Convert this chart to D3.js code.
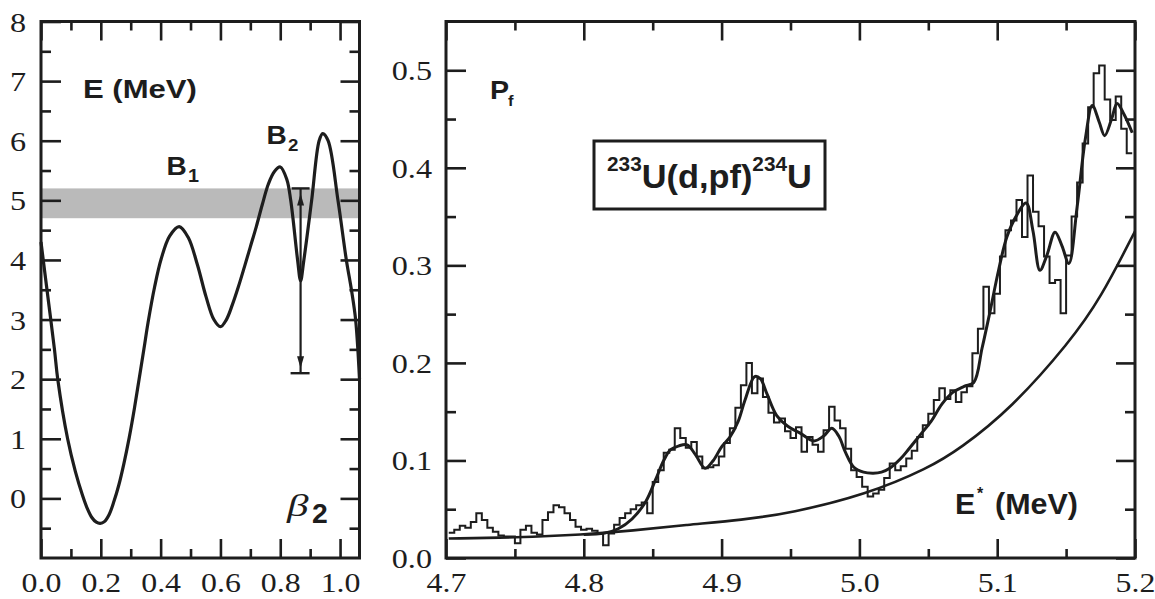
<!DOCTYPE html>
<html><head><meta charset="utf-8">
<script src="https://cdn.jsdelivr.net/npm/d3@7"></script>
<style>body{margin:0;background:#fff}svg{display:block}</style>
</head><body>
<svg id="c" width="1155" height="599"></svg>
<script>
// ---------- DATA ----------
// Left panel: potential energy vs deformation
const betaPts   = [0.000,0.020,0.045,0.056,0.089,0.115,0.139,0.155,0.170,0.185,0.198,0.212,0.228,0.244,0.260,0.277,0.295,0.312,0.328,0.344,0.358,0.380,0.402,0.430,0.462,0.492,0.523,0.552,0.578,0.600,0.620,0.640,0.660,0.680,0.700,0.720,0.740,0.760,0.780,0.800,0.822,0.835,0.858,0.868,0.879,0.905,0.930,0.942,0.960,0.993,1.021,1.038,1.052,1.065];
const energyPts = [4.30,3.50,2.50,2.00,1.00,0.45,0.05,-0.17,-0.32,-0.40,-0.42,-0.39,-0.27,-0.05,0.22,0.58,1.02,1.50,2.00,2.50,2.95,3.55,4.02,4.40,4.56,4.38,3.92,3.38,3.00,2.88,3.00,3.25,3.55,3.88,4.22,4.56,4.93,5.27,5.48,5.56,5.35,5.00,4.00,3.65,4.00,5.00,6.00,6.12,6.00,5.00,4.00,3.50,3.00,2.00];
const bandRange  = [4.7, 5.2];
const arrowBeta  = 0.868;
const arrowRange = [2.1, 5.2];
const leftXMajor = [0.0,0.2,0.4,0.6,0.8,1.0];
const leftXMinor = [0.1,0.3,0.5,0.7,0.9];
const leftYMajor = [0,1,2,3,4,5,6,7,8];
const leftYMinor = [-0.5,0.5,1.5,2.5,3.5,4.5,5.5,6.5,7.5];

// Right panel: fission probability
const histStart = 4.702, histWidth = 0.004;
const histValues = [
 0.026,0.029,0.033,0.031,0.037,0.046,0.039,0.031,0.027,0.023,
 0.022,0.022,0.015,0.029,0.033,0.026,0.024,0.039,0.047,0.054,
 0.052,0.046,0.039,0.032,0.029,0.030,0.028,0.025,0.013,0.025,
 0.034,0.041,0.046,0.050,0.054,0.057,0.046,0.078,0.090,0.108,
 0.111,0.133,0.123,0.113,0.119,0.104,0.092,0.093,0.095,0.104,
 0.118,0.133,0.154,0.177,0.200,0.169,0.184,0.165,0.149,0.139,
 0.143,0.130,0.123,0.134,0.109,0.124,0.116,0.109,0.131,0.155,
 0.141,0.133,0.112,0.090,0.083,0.073,0.063,0.066,0.070,0.082,
 0.097,0.090,0.094,0.102,0.110,0.124,0.136,0.148,0.162,0.174,
 0.163,0.172,0.160,0.170,0.176,0.210,0.235,0.278,0.251,0.271,
 0.309,0.336,0.346,0.367,0.329,0.392,0.355,0.340,0.309,0.282,
 0.285,0.251,0.310,0.350,0.385,0.425,0.462,0.497,0.505,0.470,
 0.449,0.473,0.440,0.415];
const fitE = [4.800,4.815,4.825,4.835,4.845,4.852,4.858,4.863,4.869,4.875,4.881,4.888,4.894,4.900,4.906,4.912,4.917,4.924,4.928,4.933,4.940,4.948,4.957,4.967,4.974,4.980,4.985,4.990,4.996,5.003,5.010,5.016,5.022,5.030,5.036,5.044,5.052,5.060,5.068,5.076,5.083,5.089,5.095,5.101,5.107,5.114,5.121,5.126,5.131,5.136,5.142,5.147,5.152,5.158,5.164,5.169,5.174,5.178,5.183,5.187,5.192,5.198];
const fitP = [0.024,0.0255,0.030,0.040,0.058,0.080,0.100,0.111,0.115,0.116,0.106,0.092,0.100,0.114,0.124,0.140,0.162,0.186,0.184,0.168,0.146,0.135,0.128,0.120,0.125,0.133,0.125,0.108,0.093,0.088,0.087,0.088,0.092,0.102,0.112,0.126,0.140,0.158,0.170,0.176,0.180,0.215,0.254,0.295,0.329,0.351,0.364,0.335,0.295,0.310,0.334,0.320,0.302,0.360,0.430,0.464,0.447,0.433,0.450,0.466,0.455,0.436];
const bgE = [4.702,4.750,4.800,4.835,4.875,4.915,4.950,5.005,5.050,5.073,5.110,5.153,5.175,5.200];
const bgP = [0.020,0.021,0.024,0.028,0.034,0.039,0.046,0.065,0.092,0.112,0.153,0.222,0.266,0.335];
const rightXMajor = [4.7,4.8,4.9,5.0,5.1,5.2];
const rightXMinor = [4.75,4.85,4.95,5.05,5.15];
const rightYMajor = [0.0,0.1,0.2,0.3,0.4,0.5];
const rightYMinor = [0.05,0.15,0.25,0.35,0.45];

// ---------- DRAW ----------
const INK = "#1d1d1d";
const svg = d3.select("#c");
const SERIF = "'Liberation Serif','Times New Roman',serif";
const SANS = "'Liberation Sans',Arial,Helvetica,sans-serif";

const xL = d3.scaleLinear([0, 1.065], [41, 359.5]);
const yL = d3.scaleLinear([-1, 8], [558, 21.5]);
const xR = d3.scaleLinear([4.7, 5.2], [446, 1135]);
const yR = d3.scaleLinear([0, 0.55], [558, 21.5]);

function axes(g, x, y, xMaj, xMin, yMaj, yMin, yOff) {
  const [x0, x1] = x.range(), [y0, y1] = y.range();
  const fmt = d3.format(".1f");
  const fmtY = y === yL ? d3.format("d") : d3.format(".1f");
  const add = (axis, tr) => g.append("g").attr("transform", tr).call(axis);
  add(d3.axisBottom(x).tickValues(xMaj).tickSize(-19).tickFormat(fmt), `translate(0,${y0})`).attr("class","xb");
  add(d3.axisBottom(x).tickValues(xMin).tickSize(-9).tickFormat(""), `translate(0,${y0})`);
  add(d3.axisTop(x).tickValues(xMaj).tickSize(-19).tickFormat(""), `translate(0,${y1})`);
  add(d3.axisTop(x).tickValues(xMin).tickSize(-9).tickFormat(""), `translate(0,${y1})`);
  add(d3.axisLeft(y).tickValues(yMaj).tickSize(-20).tickFormat(fmtY), `translate(${x0},0)`).attr("class","yl");
  add(d3.axisLeft(y).tickValues(yMin).tickSize(-10).tickFormat(""), `translate(${x0},0)`);
  add(d3.axisRight(y).tickValues(yMaj).tickSize(-19).tickFormat(""), `translate(${x1},0)`);
  add(d3.axisRight(y).tickValues(yMin).tickSize(-10).tickFormat(""), `translate(${x1},0)`);
  g.selectAll(".domain").remove();
  g.selectAll(".tick line").attr("stroke", INK).attr("stroke-width", 2.6);
  g.selectAll("text").attr("fill", INK).attr("font-family", SERIF).attr("font-size", 28);
  g.selectAll(".xb text").attr("font-size", 27).attr("y", 34).attr("dy", 0).attr("transform", "scale(1.18,1)");
  g.selectAll(".yl text").attr("x", -yOff / 1.15).attr("dy", "0.34em").attr("transform", "scale(1.15,1)");
  g.append("rect").attr("x", x0).attr("y", y1).attr("width", x1 - x0).attr("height", y0 - y1)
    .attr("fill", "none").attr("stroke", INK).attr("stroke-width", 3);
}

function label(g, x, y, txt, opt) {
  const w = g.append("g").attr("transform", `translate(${x},${y})`);
  const t = w.append("text").text(txt).attr("fill", INK)
    .attr("font-family", opt.serif ? SERIF : SANS)
    .attr("font-weight", opt.serif ? "normal" : "bold")
    .attr("font-style", opt.italic ? "italic" : "normal")
    .attr("font-size", opt.size);
  if (opt.width) {
    const len = t.node().getComputedTextLength();
    w.attr("transform", `translate(${x},${y}) scale(${opt.width / len},1)`);
  } else {
    w.attr("transform", `translate(${x},${y}) scale(${opt.sx || 1.18},1)`);
  }
  return t;
}

const smooth = d3.curveCatmullRom.alpha(0.5);

// ---- Left panel ----
const gL = svg.append("g");
gL.append("rect").attr("x", xL(0)).attr("width", xL(1.065) - xL(0))
  .attr("y", yL(bandRange[1])).attr("height", yL(bandRange[0]) - yL(bandRange[1]))
  .attr("fill", "#bababa");
axes(gL, xL, yL, leftXMajor, leftXMinor, leftYMajor, leftYMinor, 15);

const potential = betaPts.map((b, i) => [b, energyPts[i]]);
gL.append("path").datum(potential)
  .attr("d", d3.line().x(d => xL(d[0])).y(d => yL(d[1])).curve(smooth))
  .attr("fill", "none").attr("stroke", INK).attr("stroke-width", 3.2).attr("stroke-linejoin", "round");

// double arrow
const ax = xL(arrowBeta), aTop = yL(arrowRange[1]), aBot = yL(arrowRange[0]);
gL.append("line").attr("x1", ax).attr("x2", ax).attr("y1", aTop).attr("y2", aBot).attr("stroke", INK).attr("stroke-width", 2.2);
gL.append("line").attr("x1", ax - 9).attr("x2", ax + 9).attr("y1", aTop).attr("y2", aTop).attr("stroke", INK).attr("stroke-width", 2.4);
gL.append("line").attr("x1", ax - 10).attr("x2", ax + 9).attr("y1", aBot).attr("y2", aBot).attr("stroke", INK).attr("stroke-width", 2.4);
gL.append("path").attr("d", `M${ax},${aTop + 5}L${ax - 3.5},${aTop + 17}L${ax + 3.5},${aTop + 17}Z`).attr("fill", INK);
gL.append("path").attr("d", `M${ax},${aBot - 5}L${ax - 3.5},${aBot - 17}L${ax + 3.5},${aBot - 17}Z`).attr("fill", INK);

label(gL, 83, 98, "E (MeV)", {size: 26, width: 114});
label(gL, 166.5, 175, "B", {size: 25.5, sx: 1.1});
label(gL, 188, 182, "1", {size: 18, sx: 1.1});
label(gL, 266.5, 144, "B", {size: 25.5, sx: 1.1});
label(gL, 288, 150.5, "2", {size: 17, sx: 1.1});
label(gL, 287, 516, "β", {size: 32, serif: true, italic: true, sx: 1.35});
label(gL, 312, 523, "2", {size: 27, sx: 1.05});

// ---- Right panel ----
const gR = svg.append("g");
axes(gR, xR, yR, rightXMajor, rightXMinor, rightYMajor, rightYMinor, 14);

const hist = histValues.map((v, i) => [histStart + i * histWidth, v]);
hist.push([histStart + histValues.length * histWidth, histValues[histValues.length - 1]]);
gR.append("path").datum(hist)
  .attr("d", d3.line().x(d => xR(d[0])).y(d => yR(d[1])).curve(d3.curveStepAfter))
  .attr("fill", "none").attr("stroke", INK).attr("stroke-width", 2);

const bg = bgE.map((e, i) => [e, bgP[i]]);
gR.append("path").datum(bg)
  .attr("d", d3.line().x(d => xR(d[0])).y(d => yR(d[1])).curve(d3.curveBasis))
  .attr("fill", "none").attr("stroke", INK).attr("stroke-width", 2.6);

const fit = fitE.map((e, i) => [e, fitP[i]]);
gR.append("path").datum(fit)
  .attr("d", d3.line().x(d => xR(d[0])).y(d => yR(d[1])).curve(smooth))
  .attr("fill", "none").attr("stroke", INK).attr("stroke-width", 3).attr("stroke-linejoin", "round");

label(gR, 490, 99, "P", {size: 26, sx: 1.1});
label(gR, 508, 105.5, "f", {size: 15, sx: 1.1});

// reaction box
gR.append("rect").attr("x", 594).attr("y", 141).attr("width", 231).attr("height", 68)
  .attr("fill", "#fff").attr("stroke", INK).attr("stroke-width", 3);
const bw = gR.append("g").attr("transform", "translate(607,188)");
const bt = bw.append("text").attr("fill", INK).attr("font-family", SANS).attr("font-weight", "bold");
bt.append("tspan").attr("font-size", 20).attr("dy", -17.5).text("233");
bt.append("tspan").attr("font-size", 33).attr("dy", 17.5).text("U(d,pf)");
bt.append("tspan").attr("font-size", 20).attr("dy", -17.5).text("234");
bt.append("tspan").attr("font-size", 33).attr("dy", 17.5).text("U");
const btl = bt.node().getComputedTextLength();
bw.attr("transform", `translate(607,188) scale(${205 / btl},1)`);

label(gR, 955, 514, "E", {size: 29, sx: 1.05});
label(gR, 977, 499, "*", {size: 16, sx: 1});
label(gR, 995, 514, "(MeV)", {size: 29, width: 83});
</script>
</body></html>
